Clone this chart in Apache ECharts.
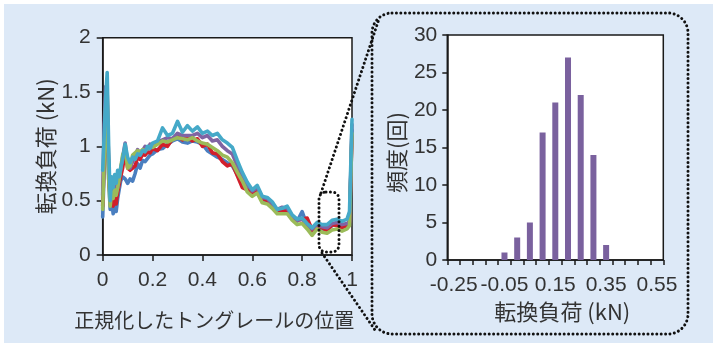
<!DOCTYPE html>
<html>
<head>
<meta charset="utf-8">
<script src="https://cdn.jsdelivr.net/npm/echarts@6/dist/echarts.min.js"></script>
<style>
html,body{margin:0;padding:0;background:#ffffff;}
#main{width:713px;height:343px;}
</style>
</head>
<body>
<div id="main"></div>
<script>
// ---- Left chart: normalized position (x) vs load (kN) ----
const positions = [0, 0.006, 0.012, 0.018, 0.024, 0.03, 0.036, 0.042, 0.048, 0.054,
  0.06, 0.066, 0.072, 0.08, 0.09, 0.1, 0.11, 0.12, 0.13, 0.14, 0.15, 0.16, 0.17, 0.18, 0.19, 0.2,
  0.22, 0.24, 0.26, 0.28, 0.3, 0.32, 0.34, 0.36, 0.38, 0.4, 0.42, 0.44, 0.46, 0.48, 0.5,
  0.52, 0.54, 0.56, 0.58, 0.6, 0.62, 0.64, 0.66, 0.68, 0.7, 0.72, 0.74, 0.76, 0.78, 0.8,
  0.82, 0.84, 0.86, 0.88, 0.9, 0.92, 0.94, 0.96, 0.98, 0.99, 1.0];

const loadBlue = [0.35, 0.8, 1.3, 1.35, 0.7, 0.42, 0.5, 0.38, 0.48, 0.4,
  0.52, 0.6, 0.68, 0.72, 0.7, 0.66, 0.7, 0.68, 0.75, 0.84, 0.8, 0.87, 0.86, 0.89, 0.92, 0.93,
  0.97, 0.98, 1.02, 1.05, 1.07, 1.04, 1.03, 1.05, 1.04, 1.02, 0.96, 0.93, 0.9, 0.88, 0.85,
  0.82, 0.74, 0.68, 0.62, 0.56, 0.6, 0.5, 0.5, 0.46, 0.4, 0.41, 0.42, 0.35, 0.31, 0.4,
  0.27, 0.22, 0.27, 0.24, 0.24, 0.27, 0.29, 0.27, 0.28, 0.3, 1.15];

const loadRed = [0.45, 0.9, 1.4, 1.5, 0.8, 0.5, 0.58, 0.45, 0.55, 0.47,
  0.58, 0.65, 0.72, 0.8, 0.95, 0.8, 0.78, 0.8, 0.82, 0.9, 0.88, 0.93, 0.92, 0.95, 0.94, 0.98,
  0.96, 1.02, 1.0, 1.07, 1.1, 1.06, 1.08, 1.05, 1.07, 1.0, 1.02, 0.94, 0.93, 0.86, 0.82,
  0.84, 0.73, 0.62, 0.6, 0.57, 0.6, 0.52, 0.5, 0.46, 0.42, 0.4, 0.41, 0.36, 0.32, 0.33,
  0.34, 0.23, 0.27, 0.25, 0.22, 0.28, 0.27, 0.25, 0.27, 0.3, 1.1];

const loadPurple = [0.55, 1.2, 1.55, 1.4, 0.75, 0.55, 0.7, 0.6, 0.72, 0.58,
  0.62, 0.7, 0.78, 0.9, 1.03, 0.84, 0.8, 0.86, 0.9, 0.97, 0.92, 0.96, 1.0, 0.97, 1.02, 1.0,
  1.04, 1.06, 1.08, 1.07, 1.12, 1.1, 1.1, 1.1, 1.12, 1.08, 1.1, 1.05, 1.06, 1.0, 0.96,
  0.93, 0.82, 0.72, 0.65, 0.59, 0.62, 0.53, 0.52, 0.47, 0.42, 0.44, 0.43, 0.36, 0.32, 0.33,
  0.28, 0.24, 0.28, 0.26, 0.25, 0.29, 0.3, 0.28, 0.29, 0.31, 1.2];

const loadGreen = [0.42, 0.9, 1.35, 1.45, 0.7, 0.45, 0.58, 0.52, 0.6, 0.55,
  0.62, 0.7, 0.8, 0.92, 0.97, 0.8, 0.82, 0.92, 0.94, 0.96, 0.95, 0.97, 0.96, 0.98, 1.0, 0.99,
  1.02, 1.05, 1.04, 1.06, 1.08, 1.07, 1.06, 1.08, 1.05, 1.03, 1.02, 0.99, 0.96, 0.92, 0.9,
  0.85, 0.76, 0.68, 0.58, 0.54, 0.57, 0.48, 0.47, 0.43, 0.38, 0.38, 0.38, 0.32, 0.28, 0.29,
  0.24, 0.18, 0.24, 0.21, 0.2, 0.23, 0.24, 0.22, 0.24, 0.27, 1.12];

const loadCyan = [0.78, 1.1, 1.45, 1.68, 1.0, 0.5, 0.72, 0.62, 0.74, 0.66,
  0.78, 0.72, 0.8, 0.88, 1.02, 0.9, 0.85, 0.9, 0.88, 0.93, 0.92, 0.96, 0.95, 1.0, 0.98, 1.03,
  1.05, 1.17, 1.1, 1.12, 1.23, 1.13, 1.19, 1.14, 1.18, 1.12, 1.14, 1.1, 1.12, 1.06, 1.03,
  0.99, 0.87, 0.76, 0.67, 0.6, 0.64, 0.54, 0.53, 0.49, 0.42, 0.43, 0.45, 0.37, 0.33, 0.34,
  0.29, 0.25, 0.3, 0.28, 0.28, 0.32, 0.33, 0.31, 0.33, 0.4, 1.25];

const xTicksLeft = [0, 0.2, 0.4, 0.6, 0.8, 1];
const yTicksLeft = [0, 0.5, 1, 1.5, 2];

// ---- Right chart: histogram of load (kN) ----
const binLabels = ['-0.25', '-0.20', '-0.15', '-0.10', '-0.05', '0.00', '0.05', '0.10', '0.15',
  '0.20', '0.25', '0.30', '0.35', '0.40', '0.45', '0.50', '0.55'];
const binCounts = [0, 0, 0, 0, 1, 3, 5, 17, 21, 27, 22, 14, 2, 0, 0, 0, 0];

const lineColors = ['#4a7fc0', '#d11f2b', '#8064a2', '#9bbb59', '#45a9c8'];
const lineNames = ['blue', 'red', 'purple', 'green', 'cyan'];
const lineSets = [loadBlue, loadRed, loadPurple, loadGreen, loadCyan];

const numFont = '"Liberation Sans", Arial, sans-serif';
const jpFont = '"Noto Sans CJK JP", "Noto Sans", sans-serif';
const axisCol = '#1a1a1a';
const txtCol = '#333333';

const chart = echarts.init(document.getElementById('main'), null, {renderer: 'canvas'});

const lineSeries = lineSets.map((vals, i) => ({
  type: 'line',
  name: lineNames[i],
  xAxisIndex: 0,
  yAxisIndex: 0,
  data: positions.map((p, j) => [p, vals[j]]),
  showSymbol: false,
  symbol: 'none',
  lineStyle: {color: lineColors[i], width: 3.6, join: 'round', cap: 'round'},
  itemStyle: {color: lineColors[i]},
  z: 2 + i,
  animation: false,
  clip: true
}));

const dotStyle = {stroke: '#111', lineWidth: 3, lineDash: [0.01, 4.4], lineCap: 'round', fill: null};

const option = {
  animation: false,
  backgroundColor: '#ffffff',
  graphic: [
    {type: 'rect', z: -10, silent: true, shape: {x: 4, y: 4, width: 709, height: 339},
      style: {fill: '#dde9f7'}},
    {type: 'rect', z: 100, silent: true, shape: {x: 372, y: 13, width: 316, height: 321, r: 20},
      style: dotStyle},
    {type: 'rect', z: 100, silent: true, shape: {x: 319, y: 192, width: 20, height: 60, r: 7},
      style: dotStyle},
    {type: 'line', z: 100, silent: true, shape: {x1: 321, y1: 193, x2: 379, y2: 19},
      style: dotStyle},
    {type: 'line', z: 100, silent: true, shape: {x1: 322, y1: 253, x2: 375, y2: 330},
      style: dotStyle}
  ],
  grid: [
    {left: 102.7, top: 37.7, width: 249.3, height: 217.3, show: true,
      backgroundColor: '#ffffff', borderColor: axisCol, borderWidth: 1.5},
    {left: 447.3, top: 35, width: 216, height: 225, show: true,
      backgroundColor: '#ffffff', borderColor: axisCol, borderWidth: 1.5}
  ],
  xAxis: [
    {type: 'value', gridIndex: 0, min: xTicksLeft[0], max: xTicksLeft[xTicksLeft.length - 1], interval: 0.2,
      name: '正規化したトングレールの位置', nameLocation: 'middle', nameGap: 55,
      nameTextStyle: {fontFamily: jpFont, fontSize: 20, color: txtCol, padding: [0, 26, 0, 0]},
      axisLine: {show: true, onZero: false, lineStyle: {color: axisCol, width: 1.5}},
      axisTick: {show: true, inside: false, length: 6, lineStyle: {color: axisCol, width: 1.5}},
      axisLabel: {fontFamily: numFont, fontSize: 21, color: txtCol, margin: 15},
      splitLine: {show: false}},
    {type: 'category', gridIndex: 1, data: binLabels, boundaryGap: true,
      name: '転換負荷 (kN)', nameLocation: 'middle', nameGap: 41,
      nameTextStyle: {fontFamily: jpFont, fontSize: 22, color: txtCol, padding: [0, 0, 0, 14]},
      axisLine: {show: true, onZero: false, lineStyle: {color: axisCol, width: 1.5}},
      axisTick: {show: true, inside: false, length: 5, interval: 0, alignWithLabel: false,
        lineStyle: {color: axisCol, width: 1.5}},
      axisLabel: {interval: 3, fontFamily: numFont, fontSize: 21, color: txtCol, margin: 15},
      splitLine: {show: false}}
  ],
  yAxis: [
    {type: 'value', gridIndex: 0, min: yTicksLeft[0], max: yTicksLeft[yTicksLeft.length - 1], interval: 0.5,
      name: '転換負荷 (kN)', nameLocation: 'middle', nameGap: 46, nameRotate: 90,
      nameTextStyle: {fontFamily: jpFont, fontSize: 22, color: txtCol},
      axisLine: {show: true, lineStyle: {color: axisCol, width: 1.5}},
      axisTick: {show: true, inside: false, length: 6, lineStyle: {color: axisCol, width: 1.5}},
      axisLabel: {fontFamily: numFont, fontSize: 21, color: txtCol, margin: 12},
      splitLine: {show: false}},
    {type: 'value', gridIndex: 1, min: 0, max: 30, interval: 5,
      name: '頻度(回)', nameLocation: 'middle', nameGap: 40, nameRotate: 90,
      nameTextStyle: {fontFamily: jpFont, fontSize: 22, color: txtCol, padding: [0, 10, 0, 0]},
      axisLine: {show: true, lineStyle: {color: axisCol, width: 1.5}},
      axisTick: {show: true, inside: false, length: 5, lineStyle: {color: axisCol, width: 1.5}},
      axisLabel: {fontFamily: numFont, fontSize: 21, color: txtCol, margin: 10},
      splitLine: {show: false}}
  ],
  series: lineSeries.concat([
    {type: 'bar', name: '頻度', xAxisIndex: 1, yAxisIndex: 1, data: binCounts,
      barWidth: 6, itemStyle: {color: '#7a619e'}, animation: false}
  ])
};
chart.setOption(option);
</script>
</body>
</html>
